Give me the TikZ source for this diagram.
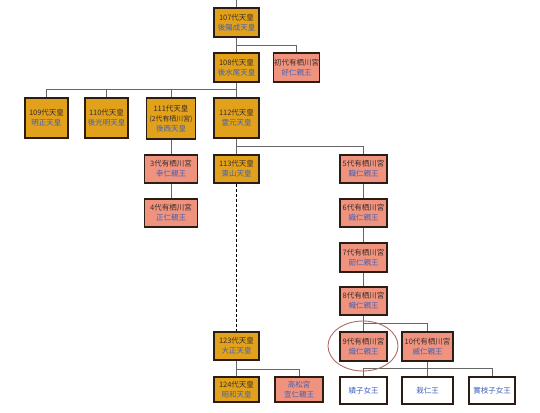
\documentclass[tikz,border=0pt]{standalone}
\usepackage{fontspec}
\setmainfont{Noto Sans CJK JP}
\definecolor{gold}{HTML}{E1A11B}
\definecolor{salmon}{HTML}{F0937E}
\definecolor{bord}{HTML}{2B1D14}
\definecolor{lnk}{HTML}{4060B8}
\definecolor{ttl}{HTML}{3A2C28}
\definecolor{conn}{HTML}{666666}
\definecolor{ring}{HTML}{B06A6A}
\tikzset{
  base/.style={draw=bord, line width=1.5pt, align=center, inner sep=0pt,
    font=\fontsize{7.5}{10}\selectfont, text=ttl},
  emp/.style={base, fill=gold},
  miya/.style={base, fill=salmon},
  kid/.style={base, fill=white, text=lnk},
  sz/.style 2 args={minimum width=#1pt, minimum height=#2pt},
  cn/.style={draw=conn, line width=0.8pt},
}
\newcommand{\nm}[1]{\textcolor{lnk}{#1}}
\begin{document}
\begin{tikzpicture}[x=1pt,y=-1pt]
\useasboundingbox (0,0) rectangle (540,412);
\node[emp,sz={45}{29}] (n107) at (236.5,22.5) {107代天皇\\\nm{後陽成天皇}};
\node[emp,sz={45}{29}] (n108) at (236.5,67.5) {108代天皇\\\nm{後水尾天皇}};
\node[miya,sz={46}{29}] (n1) at (296.5,67.5) {初代有栖川宮\\\nm{好仁親王}};
\node[emp,sz={43}{40}] (n109) at (46.5,118) {109代天皇\\\nm{明正天皇}};
\node[emp,sz={43}{40}] (n110) at (106.5,118) {110代天皇\\\nm{後光明天皇}};
\node[emp,sz={49}{41}] (n111) at (171,118.5) {111代天皇\\{\fontsize{6.9}{10}\selectfont(2代有栖川宮)}\\\nm{後西天皇}};
\node[emp,sz={45}{40}] (n112) at (236.5,118) {112代天皇\\\nm{霊元天皇}};
\node[miya,sz={53}{28}] (n3) at (171,169) {3代有栖川宮\\\nm{幸仁親王}};
\node[emp,sz={45}{28}] (n113) at (236.5,169) {113代天皇\\\nm{東山天皇}};
\node[miya,sz={53}{28}] (n4) at (171,213) {4代有栖川宮\\\nm{正仁親王}};
\node[miya,sz={47}{28}] (n5) at (363.5,169) {5代有栖川宮\\\nm{職仁親王}};
\node[miya,sz={47}{28}] (n6) at (363.5,213) {6代有栖川宮\\\nm{織仁親王}};
\node[miya,sz={47}{29}] (n7) at (363.5,257.5) {7代有栖川宮\\\nm{韶仁親王}};
\node[miya,sz={47}{28}] (n8) at (363.5,301) {8代有栖川宮\\\nm{幟仁親王}};
\node[miya,sz={47}{29}] (n9) at (363.5,346.5) {9代有栖川宮\\\nm{熾仁親王}};
\node[miya,sz={51}{29}] (n10) at (427.5,346.5) {10代有栖川宮\\\nm{威仁親王}};
\node[kid,sz={47}{27}] (c1) at (363.5,390.5) {績子女王};
\node[kid,sz={51}{27}] (c2) at (427.5,390.5) {栽仁王};
\node[kid,sz={46}{27}] (c3) at (492,390.5) {實枝子女王};
\node[emp,sz={45}{28}] (n123) at (236.5,346) {123代天皇\\\nm{大正天皇}};
\node[emp,sz={45}{25}] (n124) at (236.5,389.5) {124代天皇\\\nm{昭和天皇}};
\node[miya,sz={48}{25}] (ntk) at (299,389.5) {\nm{高松宮}\\\nm{宣仁親王}};
% connectors
\coordinate (top) at (236.5,0);
\draw[cn] (top) -- (n107.north);
\draw[cn] (n107.south) -- (n108.north);
\draw[cn] (n107.south |- 0,45) -| (n1.north);
\draw[cn] (n108.south) -- (236.5,89);
\draw[cn] (n109.north |- 0,89) -- (n112.north |- 0,89);
\foreach \n in {n109,n110,n111,n112} \draw[cn] (\n.north |- 0,89) -- (\n.north);
\draw[cn] (n111.south) -- (n3.north);
\draw[cn] (n3.south) -- (n4.north);
\draw[cn] (n112.south) -- (n113.north);
\draw[cn] (n112.south |- 0,146) -| (n5.north);
\draw[cn, densely dashed, draw=black] (n113.south) -- (n123.north);
\draw[cn] (n5.south) -- (n6.north);
\draw[cn] (n6.south) -- (n7.north);
\draw[cn] (n7.south) -- (n8.north);
\draw[cn] (n8.south) -- (n9.north);
\draw[cn] (n8.south |- 0,323) -| (n10.north);
\draw[cn] (n10.south) -- (n10.south |- 0,368);
\draw[cn] (c1.north |- 0,368) -- (c3.north |- 0,368);
\foreach \n in {c1,c2,c3} \draw[cn] (\n.north |- 0,368) -- (\n.north);
\draw[cn] (n123.south) -- (n124.north);
\draw[cn] (n123.south |- 0,369) -| (ntk.north);
\draw[ring, line width=0.9pt] (363,346) ellipse [x radius=35, y radius=25];
\end{tikzpicture}
\end{document}
